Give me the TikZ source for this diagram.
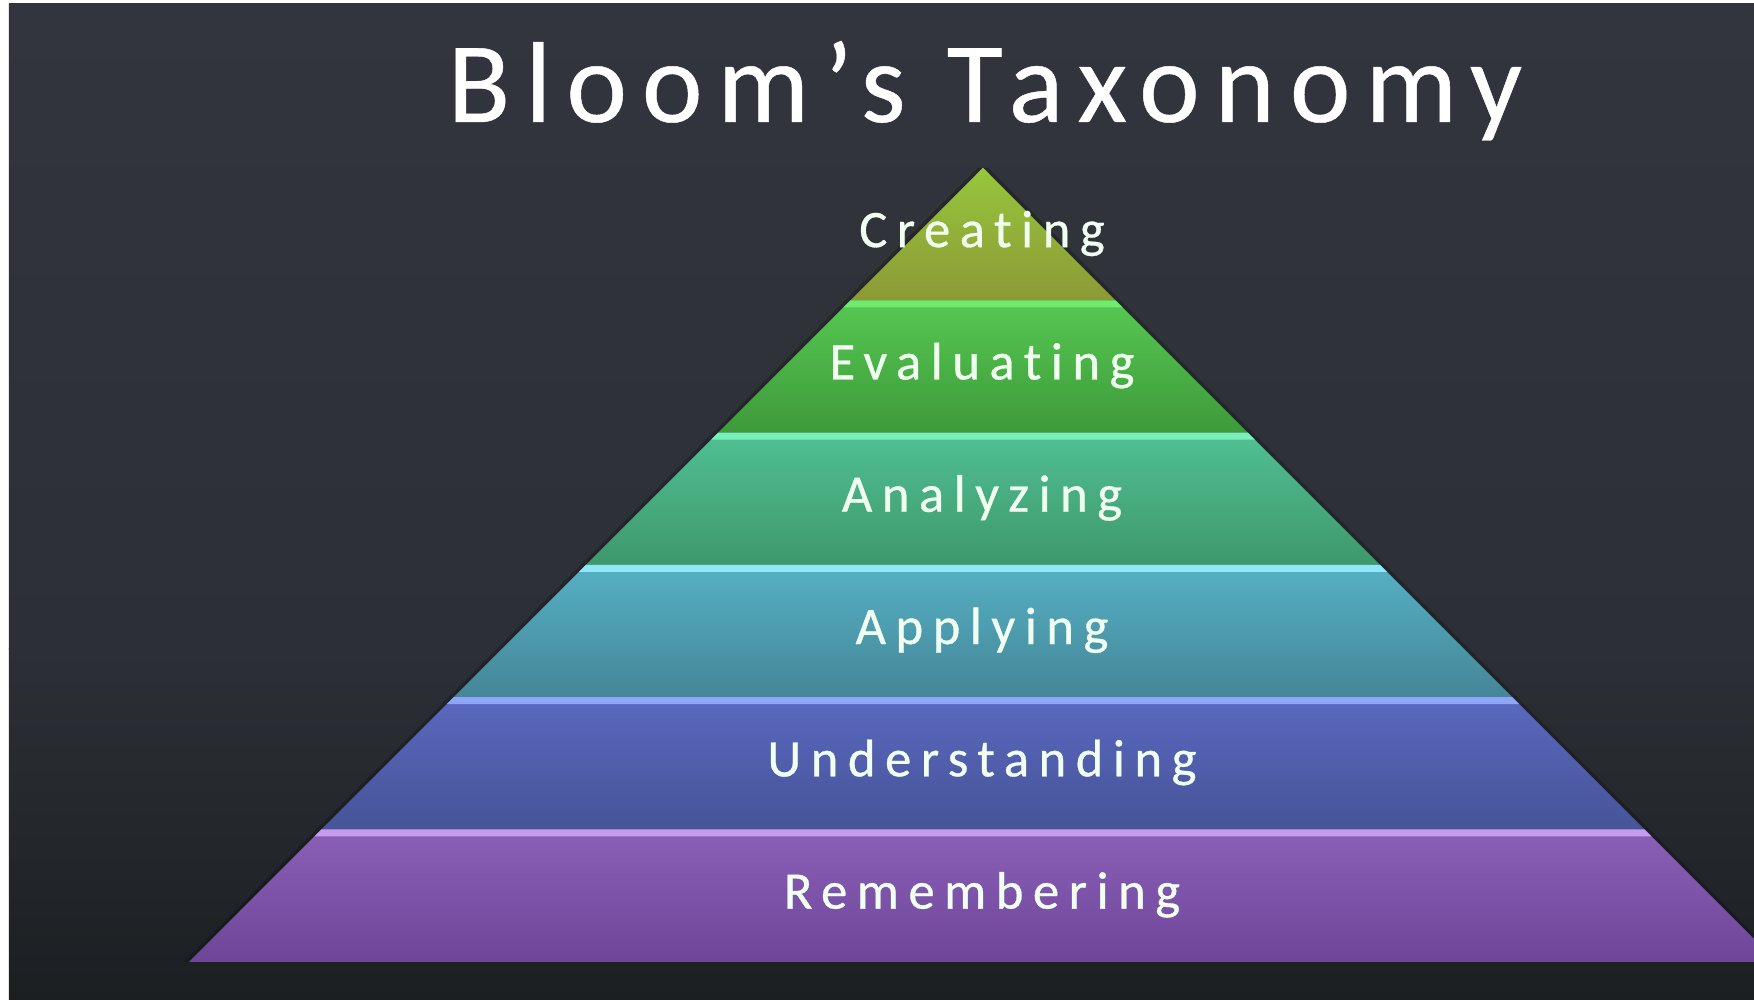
\documentclass[tikz,border=0pt]{standalone}
\usepackage{fontspec}
\setmainfont{Carlito}
\newfontfamily\titlefont[LetterSpace=13, Ligatures=NoCommon, FakeBold=0.4]{Carlito}
\newfontfamily\levelfont[LetterSpace=18, Ligatures=NoCommon, FakeBold=0.6]{Carlito}

\definecolor{bgtop}{RGB}{50,53,61}
\definecolor{bgmid}{RGB}{44,47,53}
\definecolor{bgbot}{RGB}{28,31,34}

\definecolor{topcreating}{RGB}{150,198,60}
\definecolor{botcreating}{RGB}{140,154,54}
\definecolor{hicreating}{RGB}{150,198,60}
\definecolor{topevaluating}{RGB}{86,200,82}
\definecolor{botevaluating}{RGB}{62,154,58}
\definecolor{hievaluating}{RGB}{112,234,108}
\definecolor{topanalyzing}{RGB}{80,192,146}
\definecolor{botanalyzing}{RGB}{62,152,108}
\definecolor{hianalyzing}{RGB}{122,240,184}
\definecolor{topapplying}{RGB}{86,176,196}
\definecolor{botapplying}{RGB}{68,134,152}
\definecolor{hiapplying}{RGB}{142,232,248}
\definecolor{topunderstanding}{RGB}{90,104,192}
\definecolor{botunderstanding}{RGB}{70,84,152}
\definecolor{hiunderstanding}{RGB}{143,166,248}
\definecolor{topremembering}{RGB}{138,96,184}
\definecolor{botremembering}{RGB}{110,70,152}
\definecolor{hiremembering}{RGB}{196,156,240}

\begin{document}
\begin{tikzpicture}[level/.style={font=\levelfont\fontsize{15}{18}\selectfont, text=white!94!green, anchor=base}]

\clip (0,0) rectangle (17.54,10);
\fill[white] (0,0) rectangle (17.54,10);
\shade[top color=bgtop, bottom color=bgmid] (0.09,3.5) rectangle (17.54,9.96);
\shade[top color=bgmid, bottom color=bgbot] (0.09,0) rectangle (17.54,3.51);

\node[font=\titlefont\fontsize{32.7}{40}\selectfont, text=white, anchor=base] (title) at (9.85,8.78) {Bloom’s Taxonomy};

\foreach \i/\name/\lab in {0/creating/Creating, 1/evaluating/Evaluating, 2/analyzing/Analyzing,
  3/applying/Applying, 4/understanding/Understanding, 5/remembering/Remembering} {
  \pgfmathsetmacro\yt{8.32-1.323*\i}
  \pgfmathsetmacro\yb{\yt-1.323}
  \pgfmathsetmacro\yh{\yt-0.07}
  \fill[black, opacity=0.22] (9.83-8.32+\yt-0.05,\yt) -- (9.83+8.32-\yt+0.05,\yt) -- (9.83+8.32-\yb+0.05,\yb) -- (9.83-8.32+\yb-0.05,\yb) -- cycle;
  \shade[top color=top\name, bottom color=bot\name] (9.83-8.32+\yt,\yt) -- (9.83+8.32-\yt,\yt) -- (9.83+8.32-\yb,\yb) -- (9.83-8.32+\yb,\yb) -- cycle;
  \fill[hi\name] (9.83-8.32+\yt,\yt) -- (9.83+8.32-\yt,\yt) -- (9.83+8.32-\yh,\yh) -- (9.83-8.32+\yh,\yh) -- cycle;
  \node[level] (\name) at (9.82,\yt-0.6615-0.13) {\lab};
}
\end{tikzpicture}
\end{document}
